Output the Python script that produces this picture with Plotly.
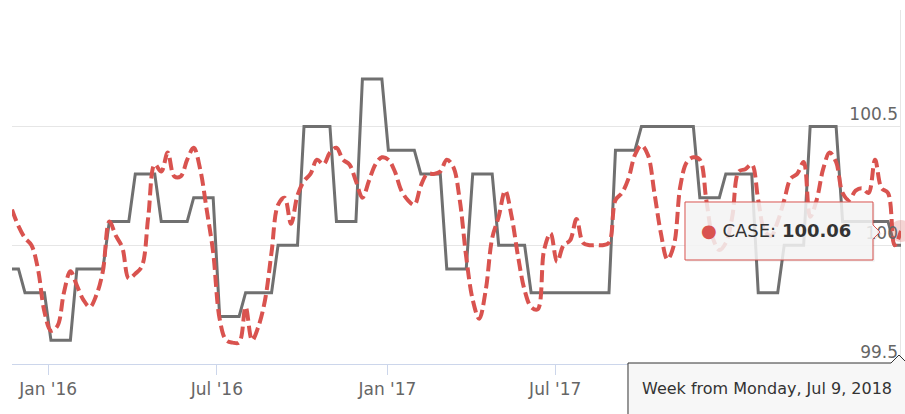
import pandas as pd
import plotly.graph_objects as go

# ---- data (weekly, Mondays) ----
start_week = "2015-11-23"
n_weeks = 138

baseline = [
    99.9, 99.9,
    99.8, 99.8, 99.8, 99.8,
    99.6, 99.6, 99.6, 99.6,
    99.9, 99.9, 99.9, 99.9, 99.9,
    100.1, 100.1, 100.1, 100.1,
    100.3, 100.3, 100.3, 100.3,
    100.1, 100.1, 100.1, 100.1, 100.1,
    100.2, 100.2, 100.2, 100.2,
    99.7, 99.7, 99.7, 99.7,
    99.8, 99.8, 99.8, 99.8, 99.8,
    100.0, 100.0, 100.0, 100.0,
    100.5, 100.5, 100.5, 100.5, 100.5,
    100.1, 100.1, 100.1, 100.1,
    100.7, 100.7, 100.7, 100.7,
    100.4, 100.4, 100.4, 100.4, 100.4,
    100.3, 100.3, 100.3, 100.3,
    99.9, 99.9, 99.9, 99.9,
    100.3, 100.3, 100.3, 100.3,
    100.0, 100.0, 100.0, 100.0, 100.0,
    99.8, 99.8, 99.8, 99.8, 99.8, 99.8, 99.8, 99.8, 99.8, 99.8, 99.8, 99.8, 99.8,
    100.4, 100.4, 100.4, 100.4,
    100.5, 100.5, 100.5, 100.5, 100.5, 100.5, 100.5, 100.5, 100.5,
    100.2, 100.2, 100.2, 100.2,
    100.3, 100.3, 100.3, 100.3, 100.3,
    99.8, 99.8, 99.8, 99.8,
    100.0, 100.0, 100.0, 100.0,
    100.5, 100.5, 100.5, 100.5, 100.5,
    100.1, 100.1, 100.1, 100.1, 100.1, 100.1, 100.1, 100.1,
    100.0, 100.0,
]

case = [
    100.15, 100.08, 100.03, 100.00, 99.90, 99.72, 99.64, 99.66, 99.80, 99.89,
    99.83, 99.77, 99.74, 99.79, 99.89, 100.10, 100.04, 99.99, 99.86, 99.88,
    99.91, 100.12, 100.34, 100.31, 100.39, 100.29, 100.29, 100.36, 100.41, 100.32,
    100.15, 99.97, 99.69, 99.60, 99.59, 99.59, 99.74, 99.60, 99.66, 99.77,
    99.97, 100.17, 100.20, 100.09, 100.21, 100.27, 100.30, 100.36, 100.34, 100.39,
    100.41, 100.36, 100.34, 100.27, 100.20, 100.27, 100.34, 100.37, 100.36, 100.31,
    100.23, 100.19, 100.17, 100.25, 100.30, 100.30, 100.31, 100.36, 100.33, 100.19,
    99.95, 99.77, 99.69, 99.81, 100.03, 100.12, 100.23, 100.12, 99.95, 99.81,
    99.74, 99.73, 99.98, 100.05, 99.93, 100.00, 100.02, 100.11, 100.01, 100.00,
    100.00, 100.00, 100.01, 100.19, 100.22, 100.28, 100.38, 100.42, 100.38, 100.22,
    100.05, 99.94, 100.00, 100.25, 100.35, 100.37, 100.36, 100.19, 100.03, 99.98,
    100.01, 100.12, 100.31, 100.32, 100.34, 100.19, 100.06, 100.04, 100.10, 100.19,
    100.28, 100.30, 100.35, 100.12, 100.19, 100.32, 100.39, 100.35, 100.22, 100.19,
    100.23, 100.24, 100.22, 100.36, 100.24, 100.22, 100.00, 100.06,
]

# tick labels; the 2018 ones sit under the crosshair label box in the original
x_tick_dates = ["2016-01-01", "2016-07-01", "2017-01-01", "2017-07-01", "2018-01-01", "2018-07-01"]
x_tick_text = ["Jan '16", "Jul '16", "Jan '17", "Jul '17", "", ""]
y_tick_vals = [99.5, 100, 100.5]
y_tick_text = ["99.5", "100", "100.5"]

series_name = "CASE"
hover_label = "Week from Monday, Jul 9, 2018"

dates = pd.date_range(start_week, periods=n_weeks, freq="7D")

RED = "#d9534f"
GRAY = "#707070"

W, H = 905, 414
ML, MR, MT, MB = 12, 4, 10, 50
PW, PH = W - ML - MR, H - MT - MB


def px(x):
    return (x - ML) / PW


def py(y):
    return (H - MB - y) / PH


fig = go.Figure()
fig.add_trace(go.Scatter(x=dates, y=baseline, mode="lines",
                         line=dict(color=GRAY, width=3), hoverinfo="skip"))
fig.add_trace(go.Scatter(x=dates, y=case, mode="lines", name=series_name,
                         line=dict(color=RED, width=4, dash="12px,5px",
                                   shape="spline", smoothing=1),
                         hoverinfo="skip"))
# hover halo on last point
fig.add_trace(go.Scatter(x=[dates[-1]], y=[case[-1]], mode="markers",
                         marker=dict(size=22, color="rgba(217,83,79,0.25)"),
                         cliponaxis=False, hoverinfo="skip"))

# crosshair
fig.add_shape(type="line", xref="x", yref="paper", x0=dates[-1], x1=dates[-1],
              y0=0, y1=1, line=dict(color="#cccccc", width=1), layer="below")


def path(points):
    s = "M " + " L ".join(f"{px(a):.5f},{py(b):.5f}" for a, b in points) + " Z"
    return s


# main tooltip box with pointer to the right
tip = [(685, 202), (873, 202), (873, 225), (880, 232), (873, 239), (873, 260), (685, 260)]
tip_shadow = [(a + 1.5, b + 1.5) for a, b in tip]
fig.add_shape(type="path", xref="paper", yref="paper", path=path(tip_shadow),
              fillcolor="rgba(0,0,0,0.08)", line=dict(width=0), layer="above")
fig.add_shape(type="path", xref="paper", yref="paper", path=path(tip),
              fillcolor="rgba(247,247,247,0.85)", line=dict(color=RED, width=1), layer="above")

# x crosshair label box
lab = [(628, 430), (628, 363), (891, 363), (899, 355), (907, 363), (912, 363), (912, 430)]
lab_shadow = [(a + 1.5, b + 1.5) for a, b in lab]
fig.add_shape(type="path", xref="paper", yref="paper", path=path(lab_shadow),
              fillcolor="rgba(0,0,0,0.08)", line=dict(width=0), layer="above")
fig.add_shape(type="path", xref="paper", yref="paper", path=path(lab),
              fillcolor="#f7f7f7", line=dict(color="#333333", width=1), layer="above")

fig.add_annotation(xref="paper", yref="paper", x=px(699), y=py(230),
                   xanchor="left", yanchor="middle", showarrow=False,
                   text=f"<span style='color:{RED}'>●</span> {series_name}: <b>{case[-1]:.2f}</b>",
                   font=dict(family="DejaVu Sans", size=18, color="#333333"))
fig.add_annotation(xref="paper", yref="paper", x=px(640), y=py(388),
                   xanchor="left", yanchor="middle", showarrow=False,
                   text=hover_label,
                   font=dict(family="DejaVu Sans", size=16, color="#333333"))

fig.update_layout(
    width=W, height=H,
    margin=dict(l=ML, r=MR, t=MT, b=MB, pad=0, autoexpand=False),
    plot_bgcolor="white", paper_bgcolor="white",
    showlegend=False,
    font=dict(family="DejaVu Sans", color="#666666"),
    xaxis=dict(type="date", range=[dates[0], dates[-1]], automargin=False,
               tickvals=list(pd.to_datetime(x_tick_dates)), ticktext=x_tick_text,
               showgrid=False, zeroline=False, showline=True,
               linecolor="#ccd6eb", linewidth=1,
               ticks="outside", ticklen=10, tickcolor="#ccd6eb", tickwidth=1,
               tickfont=dict(size=17, color="#666666")),
    yaxis=dict(side="right", range=[99.5, 100.99], automargin=False,
               tickvals=y_tick_vals, ticktext=y_tick_text,
               showgrid=True, gridcolor="#e6e6e6", gridwidth=1,
               zeroline=False, showline=False, ticks="",
               ticklabelposition="inside top",
               tickfont=dict(size=17, color="#666666")),
)

fig.write_html("out.html",
               config={"displayModeBar": False},
               post_script="document.body.style.margin='0';document.body.style.overflow='hidden';")
